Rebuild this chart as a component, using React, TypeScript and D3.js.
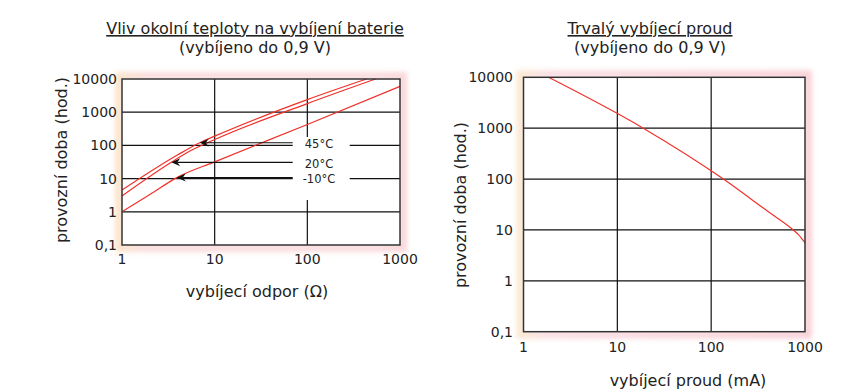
import React from "react";
import * as d3 from "d3";

// ---- data ----
const decadeTicks = [0.1, 1, 10, 100, 1000, 10000];
const xTicks = [1, 10, 100, 1000];
const tickLabel = (v: number) => (v === 0.1 ? "0,1" : String(v));

const res45 = [1, 4, 6.9, 10, 100, 435];
const hours45 = [4.5, 52, 120, 190, 2400, 10000];
const res20 = [1, 3.4, 5, 10, 100, 545];
const hours20 = [3, 31, 60, 150, 1820, 10000];
const resM10 = [1, 2, 3.9, 10, 100, 1000];
const hoursM10 = [1, 3.3, 10.7, 32, 425, 6000];

const tempLabels = ["45°C", "20°C", "-10°C"];
const arrowTipR = [6.9, 3.4, 3.9];
const arrowTipH = [120, 31, 10.7];

const current = [1.85, 18.9, 135, 400, 750, 850, 1000];
const hoursI = [10000, 1000, 100, 23.3, 10, 8.1, 5.6];

const FONT = "'DejaVu Sans', Verdana, sans-serif";

function zip(a: number[], b: number[]) {
  return a.map((v, i) => [v, b[i]] as [number, number]);
}

function Glow({ x0, x1, y0, y1, id }: { x0: number; x1: number; y0: number; y1: number; id: string }) {
  return (
    <rect
      x={x0 - 3}
      y={y0 - 3}
      width={x1 - x0 + 6}
      height={y1 - y0 + 6}
      fill="none"
      stroke={`url(#grad-${id})`}
      strokeWidth={8}
      filter="url(#blur)"
      opacity={0.6}
    />
  );
}

export default function App() {
  const lx = d3.scaleLog().domain([1, 1000]).range([122, 400]);
  const ly = d3.scaleLog().domain([0.1, 10000]).range([245, 79]);
  const rx = d3.scaleLog().domain([1, 1000]).range([523.5, 805]);
  const ry = d3.scaleLog().domain([0.1, 10000]).range([331.7, 77.3]);

  const lineL = d3
    .line<[number, number]>()
    .x((d) => lx(d[0]))
    .y((d) => ly(d[1]))
    .curve(d3.curveMonotoneX);
  const lineR = d3
    .line<[number, number]>()
    .x((d) => rx(d[0]))
    .y((d) => ry(d[1]))
    .curve(d3.curveMonotoneX);

  const arrowStartX = 292.7;
  const labelX = 319;
  const red = "#f0312a";
  const txt = "#222";

  return (
    <svg width={858} height={392} style={{ position: "absolute", left: 0, top: 0 }} fontFamily={FONT}>
      <defs>
        <filter id="blur" x="-10%" y="-10%" width="120%" height="120%">
          <feGaussianBlur stdDeviation={2.5} />
        </filter>
        <linearGradient id="grad-L" x1="0" x2="1" y1="0" y2="0">
          <stop offset="0" stopColor="#f9d2a8" />
          <stop offset="0.1" stopColor="#f7c4c8" />
          <stop offset="0.9" stopColor="#f7c4c8" />
          <stop offset="1" stopColor="#f6bcc0" />
        </linearGradient>
        <linearGradient id="grad-R" x1="0" x2="1" y1="0" y2="0">
          <stop offset="0" stopColor="#f9d8b4" />
          <stop offset="0.1" stopColor="#f7c8d0" />
          <stop offset="1" stopColor="#f4b4be" />
        </linearGradient>
      </defs>
      <rect width={858} height={392} fill="#fff" />

      {/* ---------- LEFT CHART ---------- */}
      <Glow x0={lx(1)} x1={lx(1000)} y0={ly(10000)} y1={ly(0.1)} id="L" />
      <rect x={lx(1)} y={ly(10000)} width={lx(1000) - lx(1)} height={ly(0.1) - ly(10000)} fill="#fff" />
      {decadeTicks.slice(1, -1).map((v) => (
        <line key={"lh" + v} x1={lx(1)} x2={lx(1000)} y1={ly(v)} y2={ly(v)} stroke="#111" strokeWidth={1.2} />
      ))}
      {xTicks.slice(1, -1).map((v) => (
        <line key={"lv" + v} x1={lx(v)} x2={lx(v)} y1={ly(10000)} y2={ly(0.1)} stroke="#111" strokeWidth={1.2} />
      ))}
      <rect x={arrowStartX} y={137} width={57} height={63} fill="#fff" />
      <path d={lineL(zip(res45, hours45)) || ""} fill="none" stroke={red} strokeWidth={1.2} />
      <path d={lineL(zip(res20, hours20)) || ""} fill="none" stroke={red} strokeWidth={1.2} />
      <path d={lineL(zip(resM10, hoursM10)) || ""} fill="none" stroke={red} strokeWidth={1.2} />
      {tempLabels.map((t, i) => {
        const tx = lx(arrowTipR[i]);
        const ty = ly(arrowTipH[i]);
        return (
          <g key={t}>
            <line x1={tx + 6} x2={arrowStartX} y1={ty} y2={ty} stroke="#111" strokeWidth={1.2} />
            <path d={`M${tx},${ty} L${tx + 9},${ty - 4} L${tx + 6},${ty} L${tx + 9},${ty + 4} Z`} fill="#111" />
            <text x={labelX} y={ty + 5.5} textAnchor="middle" fontSize={11.5} fill={txt}>
              {t}
            </text>
          </g>
        );
      })}
      <rect
        x={lx(1)}
        y={ly(10000)}
        width={lx(1000) - lx(1)}
        height={ly(0.1) - ly(10000)}
        fill="none"
        stroke="#333"
        strokeWidth={1.5}
      />
      {decadeTicks.map((v) => (
        <text key={"lyt" + v} x={117} y={ly(v) + 5} textAnchor="end" fontSize={14} fill={txt}>
          {tickLabel(v)}
        </text>
      ))}
      {xTicks.map((v) => (
        <text key={"lxt" + v} x={lx(v)} y={264} textAnchor="middle" fontSize={14} fill={txt}>
          {tickLabel(v)}
        </text>
      ))}
      <text x={257} y={297} textAnchor="middle" fontSize={16} fill={txt}>
        vybíjecí odpor (Ω)
      </text>
      <text transform="translate(67,160) rotate(-90)" textAnchor="middle" fontSize={16} fill={txt}>
        provozní doba (hod.)
      </text>
      <text x={255} y={34} textAnchor="middle" fontSize={16} fill={txt} textDecoration="underline">
        Vliv okolní teploty na vybíjení baterie
      </text>
      <text x={255} y={53} textAnchor="middle" fontSize={16} fill={txt}>
        (vybíjeno do 0,9 V)
      </text>

      {/* ---------- RIGHT CHART ---------- */}
      <Glow x0={rx(1)} x1={rx(1000)} y0={ry(10000)} y1={ry(0.1)} id="R" />
      <rect x={rx(1)} y={ry(10000)} width={rx(1000) - rx(1)} height={ry(0.1) - ry(10000)} fill="#fff" />
      {decadeTicks.slice(1, -1).map((v) => (
        <line key={"rh" + v} x1={rx(1)} x2={rx(1000)} y1={ry(v)} y2={ry(v)} stroke="#111" strokeWidth={1.2} />
      ))}
      {xTicks.slice(1, -1).map((v) => (
        <line key={"rv" + v} x1={rx(v)} x2={rx(v)} y1={ry(10000)} y2={ry(0.1)} stroke="#111" strokeWidth={1.2} />
      ))}
      <path d={lineR(zip(current, hoursI)) || ""} fill="none" stroke={red} strokeWidth={1.2} />
      <rect
        x={rx(1)}
        y={ry(10000)}
        width={rx(1000) - rx(1)}
        height={ry(0.1) - ry(10000)}
        fill="none"
        stroke="#333"
        strokeWidth={1.5}
      />
      {decadeTicks.map((v) => (
        <text key={"ryt" + v} x={513} y={ry(v) + 5} textAnchor="end" fontSize={14} fill={txt}>
          {tickLabel(v)}
        </text>
      ))}
      {xTicks.map((v) => (
        <text key={"rxt" + v} x={rx(v)} y={352} textAnchor="middle" fontSize={14} fill={txt}>
          {tickLabel(v)}
        </text>
      ))}
      <text x={688} y={386} textAnchor="middle" fontSize={16} fill={txt}>
        vybíjecí proud (mA)
      </text>
      <text transform="translate(466,205) rotate(-90)" textAnchor="middle" fontSize={16} fill={txt}>
        provozní doba (hod.)
      </text>
      <text x={650} y={34} textAnchor="middle" fontSize={16} fill={txt} textDecoration="underline">
        Trvalý vybíjecí proud
      </text>
      <text x={650} y={53} textAnchor="middle" fontSize={16} fill={txt}>
        (vybíjeno do 0,9 V)
      </text>
    </svg>
  );
}
